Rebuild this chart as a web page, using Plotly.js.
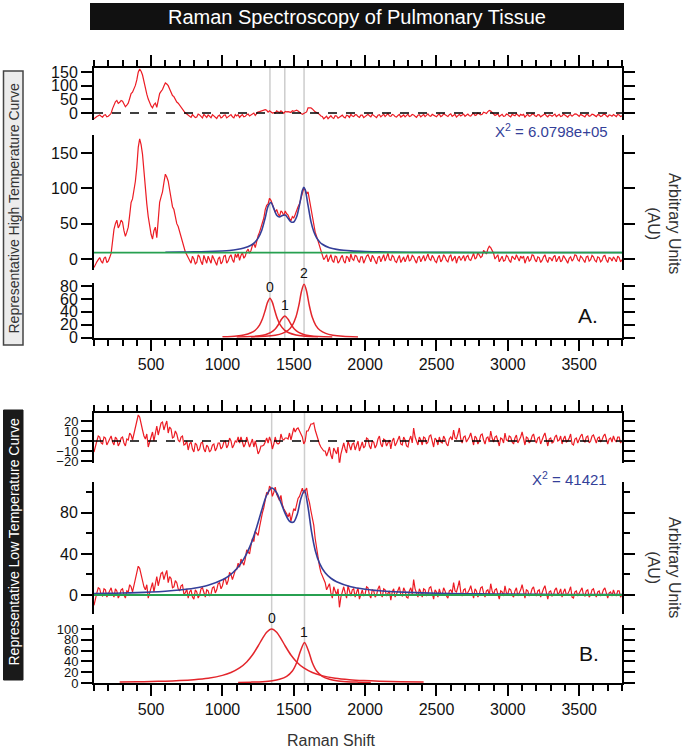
<!DOCTYPE html>
<html>
<head>
<meta charset="utf-8">
<script src="https://cdn.plot.ly/plotly-3.0.1.min.js"></script>
<style>
html,body{margin:0;padding:0;background:#fff;}
#chart{width:685px;height:756px;}
</style>
</head>
<body>
<div id="chart"></div>
<script>
// ---------------- DATA ----------------
const ramanShift = [
100,110,120,130,140,150,160,170,180,190,200,210,220,230,240,250,260,270,280,290,
300,310,320,330,340,350,360,370,380,390,400,410,420,430,440,450,460,470,480,490,
500,510,520,530,540,550,560,570,580,590,600,610,620,630,640,650,660,670,680,690,
700,710,720,730,740,750,760,770,780,790,800,810,820,830,840,850,860,870,880,890,
900,910,920,930,940,950,960,970,980,990,1000,1010,1020,1030,1040,1050,1060,1070,1080,1090,
1100,1110,1120,1130,1140,1150,1160,1170,1180,1190,1200,1210,1220,1230,1240,1250,1260,1270,1280,1290,
1300,1310,1320,1330,1340,1350,1360,1370,1380,1390,1400,1410,1420,1430,1440,1450,1460,1470,1480,1490,
1500,1510,1520,1530,1540,1550,1560,1570,1580,1590,1600,1610,1620,1630,1640,1650,1660,1670,1680,1690,
1700,1710,1720,1730,1740,1750,1760,1770,1780,1790,1800,1810,1820,1830,1840,1850,1860,1870,1880,1890,
1900,1910,1920,1930,1940,1950,1960,1970,1980,1990,2000,2010,2020,2030,2040,2050,2060,2070,2080,2090,
2100,2110,2120,2130,2140,2150,2160,2170,2180,2190,2200,2210,2220,2230,2240,2250,2260,2270,2280,2290,
2300,2310,2320,2330,2340,2350,2360,2370,2380,2390,2400,2410,2420,2430,2440,2450,2460,2470,2480,2490,
2500,2510,2520,2530,2540,2550,2560,2570,2580,2590,2600,2610,2620,2630,2640,2650,2660,2670,2680,2690,
2700,2710,2720,2730,2740,2750,2760,2770,2780,2790,2800,2810,2820,2830,2840,2850,2860,2870,2880,2890,
2900,2910,2920,2930,2940,2950,2960,2970,2980,2990,3000,3010,3020,3030,3040,3050,3060,3070,3080,3090,
3100,3110,3120,3130,3140,3150,3160,3170,3180,3190,3200,3210,3220,3230,3240,3250,3260,3270,3280,3290,
3300,3310,3320,3330,3340,3350,3360,3370,3380,3390,3400,3410,3420,3430,3440,3450,3460,3470,3480,3490,
3500,3510,3520,3530,3540,3550,3560,3570,3580,3590,3600,3610,3620,3630,3640,3650,3660,3670,3680,3690,
3700,3710,3720,3730,3740,3750,3760,3770,3780,3790,3800];

// A. high temperature curve
const highTempSpectrum = [
-12,-7,-4,-1,2,-3,-6,1,3,-5,-3,2,8,25,42,50,55,44,48,55,
52,40,32,38,45,62,80,85,95,110,130,158,170,162,148,120,95,78,60,45,
35,28,40,45,30,55,80,88,95,108,120,116,110,98,85,74,70,58,50,46,
38,30,25,14,10,6,2,-3,-6,4,0,-7,-5,6,3,-4,-8,5,-2,-6,
4,-2,-6,5,1,-4,-9,0,3,-7,-4,4,5,-6,-3,3,6,-1,-5,7,
2,8,-2,5,9,1,4,11,14,8,12,19,22,16,25,33,38,44,52,58,
70,76,78,86,83,76,72,66,70,64,60,68,66,61,68,64,62,57,54,60,
58,63,70,74,78,86,92,100,98,92,95,84,72,60,48,38,32,26,20,12,
8,-1,2,6,-4,1,6,-2,-5,4,3,-6,-3,2,5,-3,-6,4,2,-4,
7,0,-2,5,4,-2,-5,3,3,-6,-1,4,6,0,-4,5,2,-3,-7,2,
4,-4,1,6,-3,2,8,-1,-2,5,3,-3,-5,1,5,-5,0,3,-4,1,
6,-3,-1,5,3,-2,-6,2,4,-4,1,5,-3,2,7,0,-2,5,2,-3,
-5,2,5,-4,-1,6,3,-2,-4,3,6,-3,0,4,-6,1,4,-2,1,5,
-3,3,5,-1,-2,4,8,0,2,9,6,2,4,12,10,7,14,18,16,11,
8,0,3,6,-4,1,4,-3,-2,5,3,-2,-5,4,2,-1,6,0,-3,4,
1,4,-6,0,4,-3,-1,6,5,-1,-4,3,2,-5,-2,3,6,-1,-5,2,
1,-3,3,5,-4,0,4,-4,-2,5,2,-2,-6,1,3,-3,0,6,5,-1,
-3,4,2,-2,-5,3,4,-3,-1,5,3,-2,-4,3,2,-4,-2,4,5,-1,
-5,2,1,-3,3,0,-4,4,2,-4,-1];
const highTempResidual = [
-21,-16,-13,-10,-7,-12,-15,-8,-6,-14,-12,-7,-1,16,33,41,46,35,39,46,
43,31,23,29,36,53,71,76,86,101,121,149,161,153,139,111,86,69,51,36,
26,19,31,36,21,46,71,79,86,99,110,106,100,88,75,64,60,48,40,36,
28,20,15,4,0,-4,-8,-13,-16,-6,-10,-17,-15,-4,-7,-14,-18,-5,-12,-16,
-7,-13,-17,-6,-10,-15,-20,-11,-8,-18,-15,-8,-7,-18,-15,-9,-6,-14,-18,-6,
-11,-6,-16,-10,-6,-14,-12,-6,-4,-11,-8,-2,0,-9,-2,4,5,7,9,9,
12,10,3,8,3,0,1,0,8,4,1,8,4,-1,6,4,5,2,2,8,
6,8,10,7,2,-1,-5,-2,0,4,19,20,19,15,9,4,2,-1,-5,-11,
-13,-21,-17,-12,-21,-15,-10,-17,-20,-10,-11,-19,-16,-11,-8,-15,-18,-8,-10,-16,
-5,-11,-13,-6,-7,-13,-16,-8,-8,-17,-12,-7,-5,-10,-14,-5,-8,-13,-17,-8,
-6,-14,-9,-4,-13,-8,-2,-11,-12,-5,-7,-13,-15,-9,-5,-15,-10,-7,-14,-9,
-4,-13,-11,-5,-7,-12,-16,-8,-6,-14,-9,-5,-13,-8,-3,-10,-12,-5,-8,-13,
-14,-7,-4,-13,-10,-3,-6,-11,-13,-6,-3,-12,-9,-5,-15,-8,-5,-11,-8,-4,
-12,-6,-4,-10,-11,-5,-1,-9,-7,0,-3,-7,-5,3,1,-2,5,9,7,2,
-1,-9,-6,-3,-13,-8,-5,-12,-11,-4,-6,-11,-14,-5,-7,-10,-3,-9,-12,-5,
-8,-5,-15,-9,-5,-12,-10,-3,-4,-10,-13,-6,-7,-14,-11,-6,-3,-10,-14,-7,
-8,-12,-6,-4,-13,-9,-5,-13,-11,-4,-7,-11,-15,-8,-6,-12,-9,-3,-4,-10,
-12,-5,-7,-11,-14,-6,-5,-12,-10,-4,-6,-11,-13,-6,-7,-13,-11,-5,-4,-10,
-14,-7,-8,-12,-6,-9,-13,-5,-7,-13,-10];
const highTempFitShift = [600,700,800,900,1000,1050,1100,1150,1200,1225,1250,1275,1300,1320,1340,1360,1380,1400,1420,1440,
1460,1480,1500,1520,1540,1560,1570,1580,1600,1620,1640,1660,1680,1700,1750,1800,1850,1900,2000,2100,
2200,2400,2600,3000,3400,3800];
const highTempFit = [9.6,9.8,10.1,10.5,11.4,12.1,13.3,15.4,19.5,23.2,29.5,40.3,58.4,74.8,80.0,71.3,62.0,59.4,61.6,62.2,
57.5,52.5,52.4,59.7,76.3,96.8,101.5,98.0,75.8,53.3,38.8,29.9,24.5,20.9,16.0,13.6,12.3,11.5,10.6,10.1,
9.8,9.5,9.35,9.2,9.15,9.1];
const highTempBaseline = 9;
const highTempPeak0Shift = [1000,1100,1150,1200,1230,1260,1280,1300,1315,1333,1350,1365,1385,1405,1435,1465,1515,1565,1670];
const highTempPeak0 = [1.3,2.7,4.2,7.6,11.6,19.5,28.8,42.5,54.0,61,54.7,43.3,29.3,19.9,11.8,7.7,4.3,2.7,1.3];
const highTempPeak1Shift = [1100,1200,1260,1300,1340,1370,1395,1415,1437,1459,1479,1504,1534,1574,1614,1674,1770];
const highTempPeak1 = [0.9,1.7,3.0,4.7,8.2,13.5,21.2,28.9,33.5,28.9,21.2,13.5,8.2,4.7,3.0,1.7,0.9];
const highTempPeak2Shift = [1200,1300,1370,1420,1460,1490,1515,1535,1555,1572,1589,1609,1629,1654,1684,1724,1774,1844,1950];
const highTempPeak2 = [1.2,2.2,3.9,6.7,11.5,19.2,31.9,49.5,72.6,83,72.6,49.5,31.9,19.2,11.5,6.7,3.9,2.2,1.2];
const highTempPeakCenters = [1333,1437,1572];
const highTempPeakHeights = [61,33.5,83];
const highTempPeakLabels = ['0','1','2'];
const highTempChi2 = 'X<sup>2</sup> = 6.0798e+05';

// B. low temperature curve
const lowTempSpectrum = [
-10,-3,2,7,6,0,-1,6,5,-2,1,5,7,1,-2,6,4,-3,0,5,
6,0,-3,4,3,10,8,3,10,17,22,28,26,18,14,8,5,10,-3,2,
8,12,3,10,18,9,14,21,22,15,20,24,12,18,16,7,8,14,12,6,
4,9,10,1,2,6,-3,3,5,-2,-4,5,3,-3,0,6,7,1,-2,5,
4,-1,1,7,8,2,5,11,12,6,9,15,16,10,14,22,20,15,19,24,
25,31,27,35,32,29,35,44,42,40,48,55,52,62,60,58,66,75,80,85,
92,100,98,106,104,96,100,105,98,94,92,97,88,84,82,79,76,80,72,78,
84,82,88,94,96,101,104,99,101,104,95,90,82,74,68,55,45,36,28,22,
18,14,12,5,8,11,2,-3,8,3,0,6,-12,-2,4,8,2,-3,9,3,
-1,5,6,-2,3,7,-4,2,5,-1,1,8,7,0,-3,5,4,-2,0,6,
9,1,-2,6,5,-1,2,4,-5,3,6,-2,1,5,8,0,-1,7,4,-2,
-3,4,7,1,15,6,2,-2,6,3,-2,6,5,-1,1,7,8,2,-4,5,
3,-2,6,1,0,7,4,-1,-3,4,5,2,12,4,3,8,14,3,-1,5,
6,0,2,5,9,1,-3,6,4,-2,1,7,8,2,-2,4,5,0,11,4,
0,5,6,1,-4,4,3,-1,9,2,1,6,5,0,-2,4,7,-1,2,5,
10,2,-3,5,4,-1,1,6,8,2,-1,4,5,-2,3,6,9,1,-4,3,
4,-1,0,5,7,1,2,6,-2,3,6,0,1,4,8,-2,-3,3,4,-1,
2,5,7,0,-1,4,5,-2,0,5,6,1,-2,3,4,-1,1,5,7,2,
-3,2,3,-1,5,1,-1,4,4,-2,0];
const lowTempResidual = [
-11,-4,0,5,4,-2,-3,4,3,-4,-1,3,5,-1,-4,4,2,-5,-2,3,
4,-2,-5,2,1,8,6,1,8,15,20,26,24,16,11,5,2,7,-6,-1,
5,9,0,7,15,6,11,18,19,11,16,20,8,14,12,3,4,10,7,1,
-1,4,5,-4,-3,0,-9,-3,-1,-8,-11,-2,-4,-10,-8,-2,-1,-8,-11,-4,
-6,-11,-9,-4,-3,-10,-7,-2,-2,-8,-6,-1,0,-7,-4,3,0,-7,-4,0,
-1,4,-2,4,-1,-6,-3,4,-1,-6,-2,2,-6,0,-6,-13,-10,-5,-5,-4,
-1,3,-2,4,0,-8,-3,4,-2,-3,-2,7,2,1,3,3,2,8,1,7,
13,9,12,13,9,7,4,-3,0,10,10,14,17,17,18,11,6,1,-3,-6,
-8,-10,-10,-15,-11,-6,-14,-18,-7,-11,-13,-6,-24,-13,-7,-2,-8,-12,0,-6,
-9,-3,-2,-9,-4,0,-10,-4,-1,-7,-5,3,2,-5,-8,0,-1,-7,-4,2,
5,-3,-6,2,1,-5,-2,1,-8,0,3,-5,-2,2,5,-3,-4,4,1,-5,
-6,1,5,-2,13,4,0,-4,4,1,-4,4,3,-3,-1,5,6,0,-6,3,
1,-4,4,-1,-2,5,2,-3,-5,2,4,1,11,3,2,7,13,2,-2,4,
5,-1,1,4,8,0,-4,5,3,-3,0,6,7,1,-3,3,4,-1,10,3,
-1,4,5,0,-5,3,2,-2,8,1,0,5,4,-1,-3,3,6,-2,1,4,
9,1,-4,4,3,-2,0,5,7,1,-2,3,4,-3,2,5,8,0,-5,2,
3,-2,-1,4,6,0,1,5,-3,2,5,-1,0,3,7,-3,-4,2,3,-2,
2,5,7,0,-1,4,5,-2,0,5,6,1,-2,3,4,-1,1,5,7,2,
-3,2,3,-1,5,1,-1,4,4,-2,0];
const lowTempFitShift = [100,200,300,400,500,600,700,800,900,1000,1050,1100,1150,1200,1240,1280,1310,1345,1380,1410,
1440,1470,1500,1525,1550,1575,1600,1625,1650,1680,1720,1760,1800,1900,2000,2100,2200,2400,2600,2800,
3000,3400,3800];
const lowTempFit = [1.35,1.59,1.9,2.31,2.87,3.65,4.8,6.56,9.5,14.8,19.2,25.6,35.2,49.8,66.0,84.8,97.2,104.1,99.6,89.8,
79.2,71.8,71.1,78.8,94.0,102.0,85.3,61.1,43.6,31.1,21.6,16.3,12.9,8.07,5.61,4.13,3.19,2.06,1.45,1.07,
0.82,0.53,0.37];
const lowTempBaseline = 0;
const lowTempPeak0Shift = [280,400,500,600,700,800,900,1000,1060,1120,1170,1210,1250,1280,1310,1345,1380,1410,1440,1480,1520,1570,1630,1690,1790,1890,1990,2100,2250,2410];
const lowTempPeak0 = [1.7,2.2,2.7,3.4,4.5,6.2,9.0,14.1,19.5,27.9,39.0,51.8,68.5,82.3,94.1,100,94.1,82.3,68.5,51.8,39.0,27.9,19.5,14.1,9.0,6.2,4.5,3.3,2.3,1.7];
const lowTempPeak1Shift = [1110,1200,1280,1350,1400,1450,1490,1520,1545,1575,1605,1630,1660,1700,1750,1800,1870,1950,2040];
const lowTempPeak1 = [1.0,1.6,2.5,4.2,6.8,12.2,22.1,37.5,57.8,75,57.8,37.5,22.1,12.2,6.8,4.2,2.5,1.6,1.0];
const lowTempPeakCenters = [1345,1575];
const lowTempPeakHeights = [100,75];
const lowTempPeakLabels = ['0','1'];
const lowTempChi2 = 'X<sup>2</sup> = 41421';

// axis ticks / ranges
const shiftRange = [100, 3800];
const residualHighTicks = [0,50,100,150];
const mainHighTicks = [0,50,100,150];
const peaksHighTicks = [0,20,40,60,80];
const residualLowTicks = [-20,-10,0,10,20];
const mainLowTicks = [0,40,80];
const mainLowMinorTicks = [20,60,100];
const peaksLowTicks = [0,20,40,60,80,100];

// ---------------- STYLE / LAYOUT ----------------
const W = 685, H = 756;
const px = v => v / W;
const py = v => 1 - v / H;
const FONT = '"Liberation Sans", Arial, Helvetica, sans-serif';
const RED = '#ec1c24', PEAKRED = '#e3262c', BLUE = '#343f99', GREEN = '#27a050', GRAY = '#cdcdcd';
const plotL = 94, plotR = 622;

function yAx(domainPx, range, tickvals, anchor, extra) {
  return Object.assign({
    domain: [py(domainPx[1]), py(domainPx[0])], range, tickvals, anchor,
    showline: true, linewidth: 2, linecolor: '#000',
    ticks: 'outside', ticklen: 11, tickwidth: 2, tickcolor: '#000',
    mirror: 'ticks', showgrid: false, zeroline: false,
    tickfont: {family: FONT, size: 16, color: '#111'},
    fixedrange: true
  }, extra || {});
}
function xAx(anchor, side, labels) {
  return {
    domain: [px(plotL), px(plotR)], range: shiftRange, anchor, side,
    showline: true, linewidth: 2, linecolor: '#000',
    ticks: 'outside', ticklen: 11, tickwidth: 2, tickcolor: '#000',
    tickmode: 'linear', tick0: 0, dtick: 500, showticklabels: labels,
    minor: {tickmode: 'linear', tick0: 0, dtick: 100, ticks: 'outside', ticklen: 6, tickwidth: 2, tickcolor: '#000', showgrid: false},
    showgrid: false, zeroline: false,
    tickfont: {family: FONT, size: 16, color: '#111'},
    fixedrange: true
  };
}

const traces = [];
function line(x, y, xa, ya, color, width, spline) {
  traces.push({x, y, xaxis: xa, yaxis: ya, type: 'scatter', mode: 'lines',
    line: {color, width, shape: spline ? 'spline' : 'linear', smoothing: 0.8},
    hoverinfo: 'skip', showlegend: false});
}
// Panel A
line(ramanShift, highTempResidual, 'x2', 'y', RED, 1.2);
line(ramanShift, highTempSpectrum, 'x', 'y2', RED, 1.2);
line(highTempFitShift, highTempFit, 'x', 'y2', BLUE, 1.6, true);
line(shiftRange, [highTempBaseline, highTempBaseline], 'x', 'y2', GREEN, 1.8);
line(highTempPeak0Shift, highTempPeak0, 'x', 'y3', PEAKRED, 1.5, true);
line(highTempPeak1Shift, highTempPeak1, 'x', 'y3', PEAKRED, 1.5, true);
line(highTempPeak2Shift, highTempPeak2, 'x', 'y3', PEAKRED, 1.5, true);
// Panel B
line(ramanShift, lowTempResidual, 'x4', 'y4', RED, 1.2);
line(ramanShift, lowTempSpectrum, 'x3', 'y5', RED, 1.2);
line(lowTempFitShift, lowTempFit, 'x3', 'y5', BLUE, 1.6, true);
line(shiftRange, [lowTempBaseline, lowTempBaseline], 'x3', 'y5', GREEN, 1.8);
line(lowTempPeak0Shift, lowTempPeak0, 'x3', 'y6', PEAKRED, 1.5, true);
line(lowTempPeak1Shift, lowTempPeak1, 'x3', 'y6', PEAKRED, 1.5, true);

const shapes = [];
const annotations = [];
function note(xp, yp, text, font, extra) {
  annotations.push(Object.assign({xref: 'paper', yref: 'paper', x: px(xp), y: py(yp), text,
    showarrow: false, xanchor: 'center', yanchor: 'middle', font: Object.assign({family: FONT}, font)}, extra || {}));
}

// title bar
shapes.push({type: 'rect', xref: 'paper', yref: 'paper', x0: px(90), x1: px(624), y0: py(30), y1: py(3),
  fillcolor: '#111', line: {width: 0}, layer: 'below'});
note(357, 16.5, 'Raman Spectroscopy of Pulmonary Tissue', {size: 20, color: '#fff'});

// left panel labels
shapes.push({type: 'rect', xref: 'paper', yref: 'paper', x0: px(3.5), x1: px(23), y0: py(345), y1: py(71),
  fillcolor: '#ececec', line: {color: '#444', width: 1.5}, layer: 'below'});
note(13.5, 208, 'Representative High Temperature Curve', {size: 14, color: '#333'}, {textangle: -90});
shapes.push({type: 'rect', xref: 'paper', yref: 'paper', x0: px(3.5), x1: px(23), y0: py(680), y1: py(410),
  fillcolor: '#1a1a1a', line: {color: '#1a1a1a', width: 1}, layer: 'below'});
note(13.5, 542, 'Representative Low Temperature Curve', {size: 14, color: '#fff'}, {textangle: -90});

// right labels
note(664, 223, 'Arbitrary Units<br>(AU)', {size: 16, color: '#333'}, {textangle: 90});
note(664, 567, 'Arbitrary Units<br>(AU)', {size: 16, color: '#333'}, {textangle: 90});

// chi^2
note(610, 131, highTempChi2, {size: 15, color: BLUE}, {xanchor: 'right'});
note(609, 478, lowTempChi2, {size: 15, color: BLUE}, {xanchor: 'right'});

// A. / B.
note(588, 315, 'A.', {size: 21, color: '#111'});
note(589, 653, 'B.', {size: 21, color: '#111'});

// x title
note(331, 740, 'Raman Shift', {size: 16, color: '#333'});

// residual zero lines
shapes.push({type: 'line', xref: 'x2', yref: 'y', x0: shiftRange[0], x1: shiftRange[1], y0: 0, y1: 0,
  line: {color: '#000', width: 1.5, dash: 'dash'}});
shapes.push({type: 'line', xref: 'x4', yref: 'y4', x0: shiftRange[0], x1: shiftRange[1], y0: 0, y1: 0,
  line: {color: '#000', width: 1.5, dash: 'dash'}});

// peak position markers & labels
highTempPeakCenters.forEach((c, i) => {
  shapes.push({type: 'line', xref: 'x', yref: 'paper', x0: c, x1: c, y0: py(337.7), y1: py(68),
    line: {color: GRAY, width: 1.5}, layer: 'below'});
  annotations.push({xref: 'x', yref: 'y3', x: c, y: highTempPeakHeights[i], text: highTempPeakLabels[i],
    showarrow: false, xanchor: 'center', yanchor: 'bottom', yshift: 1, font: {family: FONT, size: 14, color: '#111'}});
});
lowTempPeakCenters.forEach((c, i) => {
  shapes.push({type: 'line', xref: 'x3', yref: 'paper', x0: c, x1: c, y0: py(683), y1: py(413),
    line: {color: GRAY, width: 1.5}, layer: 'below'});
  annotations.push({xref: 'x3', yref: 'y6', x: c, y: lowTempPeakHeights[i], text: lowTempPeakLabels[i],
    showarrow: false, xanchor: 'center', yanchor: 'bottom', yshift: 1, font: {family: FONT, size: 14, color: '#111'}});
});

const smallTicks = {tickfont: {family: FONT, size: 13, color: '#111'}};
const layout = {
  width: W, height: H,
  margin: {l: 0, r: 0, t: 0, b: 0},
  paper_bgcolor: '#fff', plot_bgcolor: 'rgba(0,0,0,0)',
  showlegend: false, hovermode: false,
  font: {family: FONT},
  xaxis: xAx('y3', 'bottom', true),
  xaxis2: xAx('y', 'top', false),
  xaxis3: xAx('y6', 'bottom', true),
  xaxis4: xAx('y4', 'top', false),
  yaxis: yAx([68, 120], [-25.6, 164.6], residualHighTicks, 'x2'),
  yaxis2: yAx([135, 270], [-15.6, 175.5], mainHighTicks, 'x'),
  yaxis3: yAx([283.4, 337.7], [0, 84], peaksHighTicks, 'x'),
  yaxis4: yAx([413.3, 462.7], [-21.7, 27.7], residualLowTicks, 'x4', smallTicks),
  yaxis5: yAx([482, 614], [-18.5, 110], mainLowTicks, 'x3',
    {minor: {tickvals: mainLowMinorTicks, ticks: 'outside', ticklen: 6, tickwidth: 2, tickcolor: '#000', showgrid: false}}),
  yaxis6: yAx([625, 683], [0, 107.4], peaksLowTicks, 'x3', smallTicks),
  shapes, annotations
};

Plotly.newPlot('chart', traces, layout, {staticPlot: true, displayModeBar: false});
</script>
</body>
</html>
